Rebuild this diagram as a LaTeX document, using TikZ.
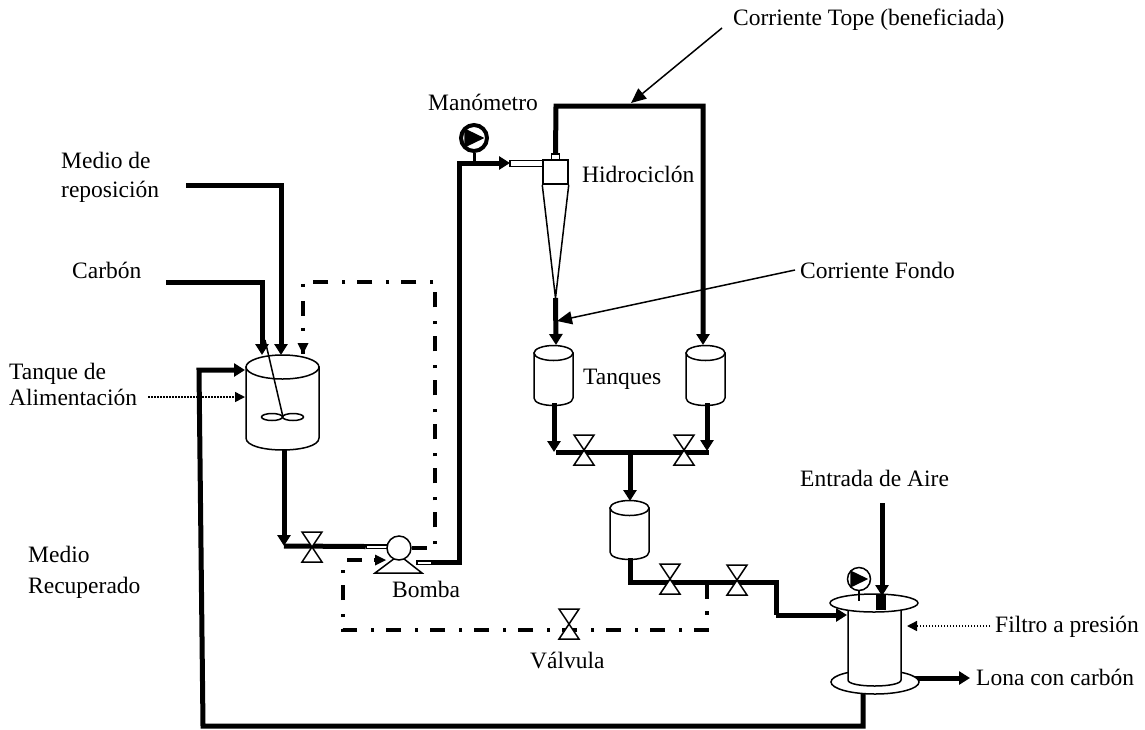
\documentclass[tikz,border=0pt]{standalone}
\usepackage{fontspec}
\setmainfont{Liberation Serif}
\usetikzlibrary{arrows.meta}
\tikzstyle{pipe} = [line width=5pt, draw]
\tikzstyle{pipearrow} = [pipe, -{Triangle[length=11pt,width=13pt]}]
\tikzstyle{control} = [line width=4pt, draw, dash pattern=on 15pt off 12pt on 3.5pt off 13.5pt]
\tikzstyle{thinarrow} = [line width=1.5pt, draw, -{Triangle[length=15pt,width=13pt]}]
\tikzstyle{hintarrow} = [line width=1.5pt, draw, dash pattern=on 1.5pt off 1.5pt, -{Triangle[length=10pt,width=10pt]}]
\tikzstyle{equip} = [line width=1.5pt, draw, fill=white]
\tikzset{
	tag/.style={anchor=base west, inner sep=0pt, font=\fontsize{23.5}{23.5}\selectfont},
	bodybox/.style={rectangle, inner sep=0pt, minimum width=#1},
	nozzle/.style={rectangle, draw, fill=white, line width=1.5pt, inner sep=0pt},
}
% name, x, y of lid centre, x radius, y radius, side height
\newcommand{\tank}[6]{
	\path [equip] (#2-#4,#3) -- (#2-#4,#3+#6)
		.. controls (#2-#4,#3+#6+#5*1.33) and (#2+#4,#3+#6+#5*1.33) .. (#2+#4,#3+#6)
		-- (#2+#4,#3) -- cycle;
	\path [equip] (#2,#3) ellipse [x radius=#4, y radius=#5];
	\node [bodybox=2*#4 pt, minimum height=2*#5 pt+#6 pt] (#1) at (#2,#3+#6/2) {};
}
\newcommand{\valve}[3]{
	\coordinate (#1) at (#2,#3);
	\path [equip] (#2-10,#3-15) -- (#2+10,#3-15) -- (#2-10,#3+15) -- (#2+10,#3+15) -- cycle;
}
% name, x, y, radius, ring width
\newcommand{\gauge}[5]{
	\node [circle, draw, fill=white, line width=#5pt, inner sep=0pt, minimum size=2*#4 pt] (#1) at (#2,#3) {};
	\fill (#2-0.75*#4,#3-0.75*#4) -- (#2+0.8*#4,#3) -- (#2-0.75*#4,#3+0.75*#4) -- cycle;
}

\begin{document}
\begin{tikzpicture}[x=1pt,y=-1pt]
\useasboundingbox (0,0) rectangle (1145,729);

\foreach \x/\y/\name/\txt in {733/25/ltope/Corriente Tope (beneficiada), 428/110/lmano/Manómetro,
	582/182/lhidro/Hidrociclón, 61/168/lmedio/Medio de, 61/197/lrepo/reposición, 72/278/lcarbon/Carbón,
	800/278/lfondo/Corriente Fondo, 9/379/ltanque/Tanque de, 9/405/lalim/Alimentación,
	583/384/ltanques/Tanques, 800/486/laire/Entrada de Aire, 28/562/lrec/Medio, 28/593/lrecu/Recuperado,
	392/597/lbomba/Bomba, 530/668/lvalv/Válvula, 995/632/lfiltro/Filtro a presión, 976/685/llona/Lona con carbón}
	\node [tag] (\name) at (\x,\y) {\txt};

%equipment
\tank{alim}{282.5}{367}{36.5}{12}{71}
\draw [line width=1.5pt] (265,340) -- (283,417);
\draw [line width=1.5pt] (272,417) ellipse [x radius=10.5, y radius=3.5];
\draw [line width=1.5pt] (293,417) ellipse [x radius=10.5, y radius=3.5];
\tank{tanka}{553.5}{353}{19.5}{7.5}{45}
\tank{tankb}{705.5}{353}{19.5}{7.5}{45}
\tank{tankc}{629.5}{508}{19.5}{7.5}{44}

\node [rectangle, draw, fill=white, line width=1.5pt, minimum width=25pt, minimum height=24pt, inner sep=0pt] (hidro) at (555.5,172) {};
\coordinate (hidrotip) at (555.5,298);
\draw [line width=1.5pt] (hidro.south west) -- (hidrotip) -- (hidro.south east);
\node [nozzle, minimum width=33pt, minimum height=6pt] (hidroin) at (526.5,163.5) {};
\node [nozzle, minimum width=8pt, minimum height=6pt] (hidrotop) at (555.5,157) {};

\coordinate (bombabase) at (399,555);
\draw [equip] (375,573) -- (bombabase) -- (422,573) -- cycle;
\node [nozzle, minimum width=21pt, minimum height=3.5pt] (bombain) at (377,546.5) {};
\node [nozzle, minimum width=15pt, minimum height=3.5pt] (bombaout) at (424.5,562.5) {};
\node [circle, draw, fill=white, line width=1.5pt, minimum size=24pt, inner sep=0pt] (bomba) at (399,548) {};

%lines
\coordinate (carbon a) at (166,282);
\coordinate (carbon b) at (262,282);
\coordinate (carbon c) at (262,355);
\coordinate (medio a) at (186,185);
\coordinate (medio b) at (281,185);
\coordinate (medio c) at (281,355);
\coordinate (ret a) at (863,693);
\coordinate (ret b) at (863,726);
\coordinate (ret c) at (203,726);
\coordinate (ret d) at (199,370);
\coordinate (ret e) at (245,370);
\coordinate (alim a) at (284,450);
\coordinate (alim b) at (284,546);
\coordinate (up a) at (459,562.5);
\coordinate (up b) at (459,163);
\coordinate (up c) at (510,163);
\coordinate (top a) at (556,106);
\coordinate (top b) at (703,106);
\coordinate (top c) at (703,345);
\coordinate (fondo a) at (556,345);
\coordinate (tanka a) at (554,403);
\coordinate (tanka b) at (554,452);
\coordinate (tankb a) at (707,403);
\coordinate (tankb b) at (707,451);
\coordinate (bar a) at (556,452);
\coordinate (bar b) at (709,452);
\coordinate (bar m) at (630,452);
\coordinate (tankc a) at (630,501);
\coordinate (tankc c) at (630,558);
\coordinate (tankc b) at (630,582);
\coordinate (feed a) at (776,582);
\coordinate (feed b) at (776,615);
\coordinate (feed c) at (847,615);
\coordinate (aire a) at (882,503);
\coordinate (aire b) at (882,596);
\coordinate (lona a) at (900,678);
\coordinate (lona b) at (970,678);

\path [pipearrow] (carbon a) -- (carbon b) -- (carbon c);
\path [pipearrow] (medio a) -- (medio b) -- (medio c);
\path [pipearrow] (ret a) -- (ret b) -- (ret c) -- (ret d) -- (ret e);
\path [pipearrow] (alim a) -- (alim b);
\path [pipe] (alim b) -- (bombain.west);
\path [pipearrow] (bombaout.east) -- (up a) -- (up b) -- (up c);
\path [pipearrow] (hidrotop.north) -- (top a) -- (top b) -- (top c);
\path [pipearrow] (hidrotip) -- (fondo a);
\path [pipearrow] (tanka a) -- (tanka b);
\path [pipearrow] (tankb a) -- (tankb b);
\path [pipe] (bar a) -- (bar b);
\path [pipearrow] (bar m) -- (tankc a);
\path [pipe] (tankc c) -- (tankc b) -- (feed a) -- (feed b);
\path [pipearrow] (feed b) -- (feed c);
\path [pipearrow] (aire a) -- (aire b);
\path [pipearrow] (lona a) -- (lona b);

%dash-dot loops
\coordinate (ctrl a) at (435,548);
\coordinate (ctrl b) at (435,282);
\coordinate (ctrl c) at (303,282);
\coordinate (ctrl d) at (303,354);
\coordinate (rec a) at (707,584);
\coordinate (rec b) at (707,630);
\coordinate (rec c) at (343,630);
\coordinate (rec d) at (343,560);
\coordinate (rec e) at (386,560);
\path [control] (bomba.east) -- (ctrl a) -- (ctrl b) -- (ctrl c) -- (ctrl d);
\fill (ctrl d) -- ++(-5.5,-11) -- ++(11,0) -- cycle;
\path [control] (rec a) -- (rec b) -- (rec c) -- (rec d) -- (rec e);
\fill (rec e) -- ++(-11,-5.5) -- ++(0,11) -- cycle;

\valve{va}{312}{547}
\valve{vb}{584}{450}
\valve{vc}{684}{450}
\valve{vd}{670}{579}
\valve{ve}{737}{580}
\valve{vf}{569}{624}

%filter
\path [equip] (875,682) ellipse [x radius=44, y radius=12];
\node [bodybox=53pt, minimum height=74pt] (filtro) at (874.5,646) {};
\path [equip] (848,610) -- (848,680) .. controls (848,688) and (901,688) .. (901,680) -- (901,610) -- cycle;
\path [equip] (874,603) ellipse [x radius=44, y radius=9];
\fill (876,595) rectangle (886,610);
\gauge{gaugeb}{859}{579}{11.5}{1.5}
\coordinate (gaugeb foot) at (859,601);
\draw [line width=1.5pt] (gaugeb.south) -- (gaugeb foot);
\gauge{gaugea}{474}{138}{13}{4}
\coordinate (gaugea foot) at (474,163);
\draw [line width=3pt] (gaugea.south) -- (gaugea foot);

%callouts
\coordinate (ctop a) at (722,28);
\coordinate (ctop b) at (631,103);
\coordinate (cfon a) at (795,270);
\coordinate (cfon b) at (557,321);
\coordinate (hint a) at (148,397);
\coordinate (hint b) at (245,397);
\coordinate (hint c) at (990,626);
\coordinate (hint d) at (907,626);
\path [thinarrow] (ctop a) -- (ctop b);
\path [thinarrow] (cfon a) -- (cfon b);
\path [hintarrow] (hint a) -- (hint b);
\path [hintarrow] (hint c) -- (hint d);

\end{tikzpicture}
\end{document}
